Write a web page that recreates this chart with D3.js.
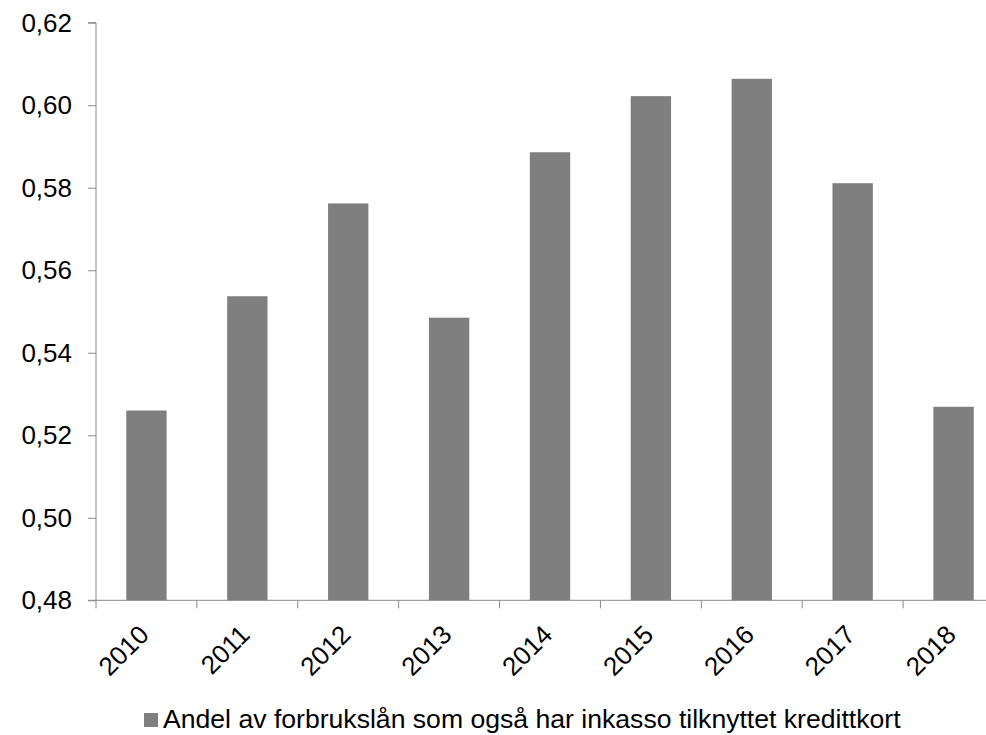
<!DOCTYPE html>
<html><head><meta charset="utf-8">
<script src="https://cdn.jsdelivr.net/npm/d3@7"></script>
<style>body{margin:0;background:#fff;}svg{display:block;font-family:"Liberation Sans",Arial,sans-serif;}</style>
</head><body>
<svg id="c" width="986" height="735"></svg>
<script>
const categories = ["2010","2011","2012","2013","2014","2015","2016","2017","2018"];
const values = [0.526, 0.5537, 0.5762, 0.5485, 0.5886, 0.6022, 0.6064, 0.5811, 0.5269];
const yTicks = [0.48, 0.50, 0.52, 0.54, 0.56, 0.58, 0.60, 0.62];
const seriesName = "Andel av forbrukslån som også har inkasso tilknyttet kredittkort";

(function(){
const svg = d3.select("#c");
const pL = 96, pR = 1004, pT = 22.7, pB = 600.3;
const FS = 26;
const x = d3.scaleBand().domain(categories).range([pL, pR]).paddingInner(0.6).paddingOuter(0.3);
const y = d3.scaleLinear().domain([0.48, 0.62]).range([pB, pT]);

svg.append("g").selectAll("rect").data(values).join("rect")
  .attr("x", (d,i) => x(categories[i]))
  .attr("width", x.bandwidth())
  .attr("y", d => y(d))
  .attr("height", d => y(0.48) - y(d))
  .attr("fill", "#7f7f7f");

const fmt = d => d3.format(".2f")(d).replace(".", ",");
const yAxis = svg.append("g").attr("transform", `translate(${pL},0)`)
  .call(d3.axisLeft(y).tickValues(yTicks).tickFormat(fmt).tickSize(8).tickPadding(16));
yAxis.attr("font-size", FS).attr("font-family", "Liberation Sans, Arial, sans-serif");
yAxis.select(".domain").attr("stroke", "#898989").attr("d", `M-8,${pT}H0V${pB}H-8`);
yAxis.selectAll(".tick line").attr("stroke", "#898989");
yAxis.selectAll("text").attr("fill", "#000");

const xg = svg.append("g");
xg.append("line").attr("x1", pL).attr("x2", pR).attr("y1", pB).attr("y2", pB).attr("stroke", "#898989");
const bounds = d3.range(categories.length + 1).map(i => pL + i * (pR - pL) / categories.length);
xg.selectAll("line.t").data(bounds).join("line").attr("class","t")
  .attr("x1", d => d).attr("x2", d => d).attr("y1", pB).attr("y2", pB + 8).attr("stroke", "#898989");
xg.selectAll("text").data(categories).join("text")
  .attr("transform", d => `translate(${x(d) + x.bandwidth()/2 + 4},${pB + 36}) rotate(-45)`)
  .attr("text-anchor", "end")
  .attr("font-size", FS)
  .text(d => d);

const lg = svg.append("g");
lg.append("rect").attr("x", 144).attr("y", 713).attr("width", 14).attr("height", 14).attr("fill", "#7f7f7f");
lg.append("text").attr("x", 163).attr("y", 728).attr("font-size", 26.6).text(seriesName);
})();
</script>
</body></html>
